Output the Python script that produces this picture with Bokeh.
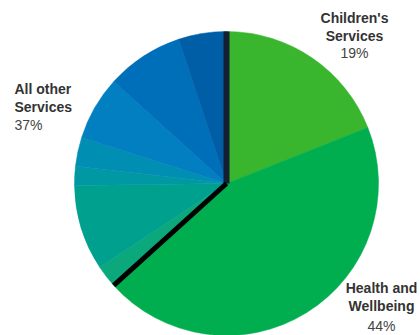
import math
from bokeh.plotting import figure
from bokeh.models import Range1d, ColumnDataSource
from bokeh.core.properties import value
from bokeh.embed import file_html
from bokeh.resources import INLINE

# Data (percent shares, clockwise from 12 o'clock)
segments = ["Children's Services", "Health and Wellbeing",
            "Other 1", "Other 2", "Other 3", "Other 4", "Other 5", "Other 6", "Other 7"]
shares = [19.0, 44.3, 2.4, 9.1, 2.0, 3.1, 6.8, 8.2, 5.1]
colors = ["#3AB52E", "#00AE50", "#0AA87A", "#00A08E", "#0098A2", "#008FB2",
          "#017FC1", "#006FB9", "#005EA6"]

group_names = [["Children's", "Services"], ["Health and", "Wellbeing"], ["All other", "Services"]]
group_pcts = ["19%", "44%", "37%"]

W, H = 420, 335
cx, cy, r = 226, 152, 152

total = sum(shares)
cum = [0.0]
for s in shares:
    cum.append(cum[-1] + s)
starts = [math.pi / 2 - 2 * math.pi * cum[i + 1] / total for i in range(len(shares))]
ends = [math.pi / 2 - 2 * math.pi * cum[i] / total for i in range(len(shares))]

src = ColumnDataSource(dict(seg=segments, start=starts, end=ends, color=colors))

p = figure(width=W, height=H, output_backend="svg", toolbar_location=None,
           x_range=Range1d(0, W), y_range=Range1d(0, H), min_border=0)
p.axis.visible = False
p.grid.visible = False
p.outline_line_color = None
p.background_fill_color = "white"
p.border_fill_color = "white"

p.wedge(x=cx, y=cy, radius=r, start_angle="start", end_angle="end",
        direction="anticlock", fill_color="color", line_color="color", line_width=0.5, source=src)

# separator lines: at start (top) and after Health and Wellbeing
a_top = math.pi / 2 - 2 * math.pi * cum[0] / total
a_grp = math.pi / 2 - 2 * math.pi * cum[2] / total
p.segment(x0=[cx], y0=[cy], x1=[cx + r * math.cos(a_top)], y1=[cy + r * math.sin(a_top)],
          line_color="#141F33", line_width=6)
p.segment(x0=[cx], y0=[cy], x1=[cx + r * math.cos(a_grp)], y1=[cy + r * math.sin(a_grp)],
          line_color="#000000", line_width=5)

font = value("Liberation Sans")
lab_x = [354, 354, 381, 381, 14, 14]
lab_y = [318, 300, 48, 30, 247, 229]
lab_t = [group_names[0][0], group_names[0][1], group_names[1][0], group_names[1][1],
         group_names[2][0], group_names[2][1]]
lab_a = ["center", "center", "center", "center", "left", "left"]
p.text(x=lab_x, y=lab_y, text=lab_t, text_align=lab_a, text_baseline="middle",
       text_font=font, text_font_style="bold", text_font_size="14px", text_color="#333333")
p.text(x=[354, 381, 14], y=[283, 10, 211], text=group_pcts,
       text_align=["center", "center", "left"], text_baseline="middle",
       text_font=font, text_font_size="14px", text_color="#444444")

open("out.html", "w").write(file_html(p, INLINE))
